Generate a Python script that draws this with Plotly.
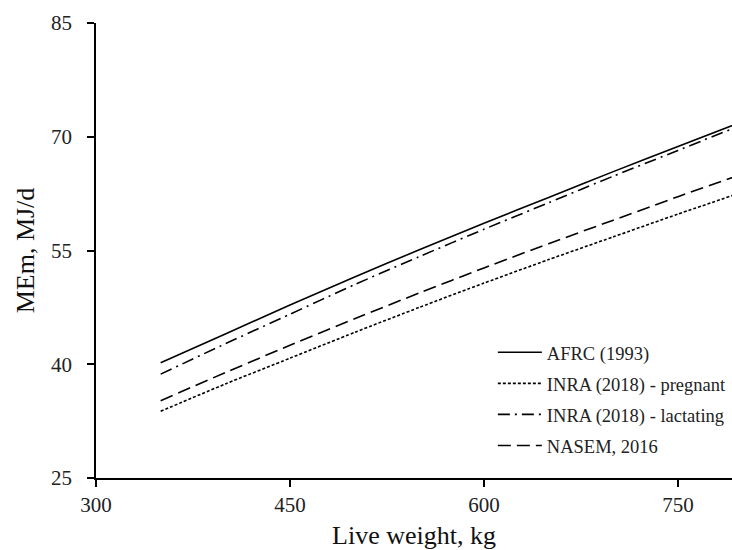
import plotly.graph_objects as go

live_weight = [350, 400, 450, 500, 550, 600, 650, 700, 750, 800]
afrc_1993 = [40.2, 44.0, 47.8, 51.5, 55.1, 58.6, 62.0, 65.4, 68.7, 72.0]
inra_pregnant = [33.8, 37.4, 40.8, 44.2, 47.5, 50.7, 53.8, 56.8, 59.8, 62.7]
inra_lactating = [38.7, 42.7, 46.6, 50.5, 54.2, 57.8, 61.3, 64.8, 68.2, 71.6]
nasem_2016 = [35.2, 38.9, 42.5, 46.0, 49.4, 52.7, 55.9, 59.0, 62.1, 65.1]

x_ticks = [300, 450, 600, 750]
y_ticks = [25, 40, 55, 70, 85]

series = [
    ("AFRC (1993)", afrc_1993, "solid"),
    ("INRA (2018) - pregnant", inra_pregnant, "3px,2px"),
    ("INRA (2018) - lactating", inra_lactating, "12px,5px,2px,5px"),
    ("NASEM, 2016", nasem_2016, "13px,6px"),
]

FONT = "Times New Roman"

fig = go.Figure()
for i, (name, vals, dash) in enumerate(series):
    fig.add_trace(go.Scatter(
        x=live_weight, y=vals, mode="lines", name=name,
        legendgroup=f"g{i}",
        line=dict(color="black", width=1.6, dash=dash, shape="spline", smoothing=0.6),
    ))

fig.update_layout(
    width=732, height=550,
    margin=dict(l=96, r=0, t=23, b=72, autoexpand=False),
    plot_bgcolor="white", paper_bgcolor="white",
    font=dict(family=FONT, color="#222222"),
    showlegend=True,
    legend=dict(
        x=0.624, y=0.317, xanchor="left", yanchor="top",
        font=dict(family=FONT, size=18.5, color="#222222"),
        bgcolor="rgba(0,0,0,0)",
        tracegroupgap=4,
        itemwidth=44,
    ),
)

fig.update_xaxes(
    range=[300, 791.8], tickvals=x_ticks, ticktext=[str(v) for v in x_ticks],
    showgrid=False, zeroline=False, automargin=False,
    showline=True, linecolor="black", linewidth=1.5,
    ticks="outside", ticklen=7, tickwidth=1.5, tickcolor="black",
    tickfont=dict(family=FONT, size=21, color="#222222"),
    title=dict(text="Live weight, kg", font=dict(family=FONT, size=26, color="#111111"), standoff=17),
)
fig.update_yaxes(
    range=[25, 85], tickvals=y_ticks, ticktext=[str(v) for v in y_ticks],
    showgrid=False, zeroline=False, automargin=False,
    showline=True, linecolor="black", linewidth=1.5,
    ticks="outside", ticklen=7, tickwidth=1.5, tickcolor="black",
    ticklabelstandoff=11,
    tickfont=dict(family=FONT, size=21, color="#222222"),
    title=dict(text="MEm, MJ/d", font=dict(family=FONT, size=26, color="#111111"), standoff=9),
)

fig.write_html("out.html", config={"displayModeBar": False},
               post_script="document.body.style.margin='0';")
